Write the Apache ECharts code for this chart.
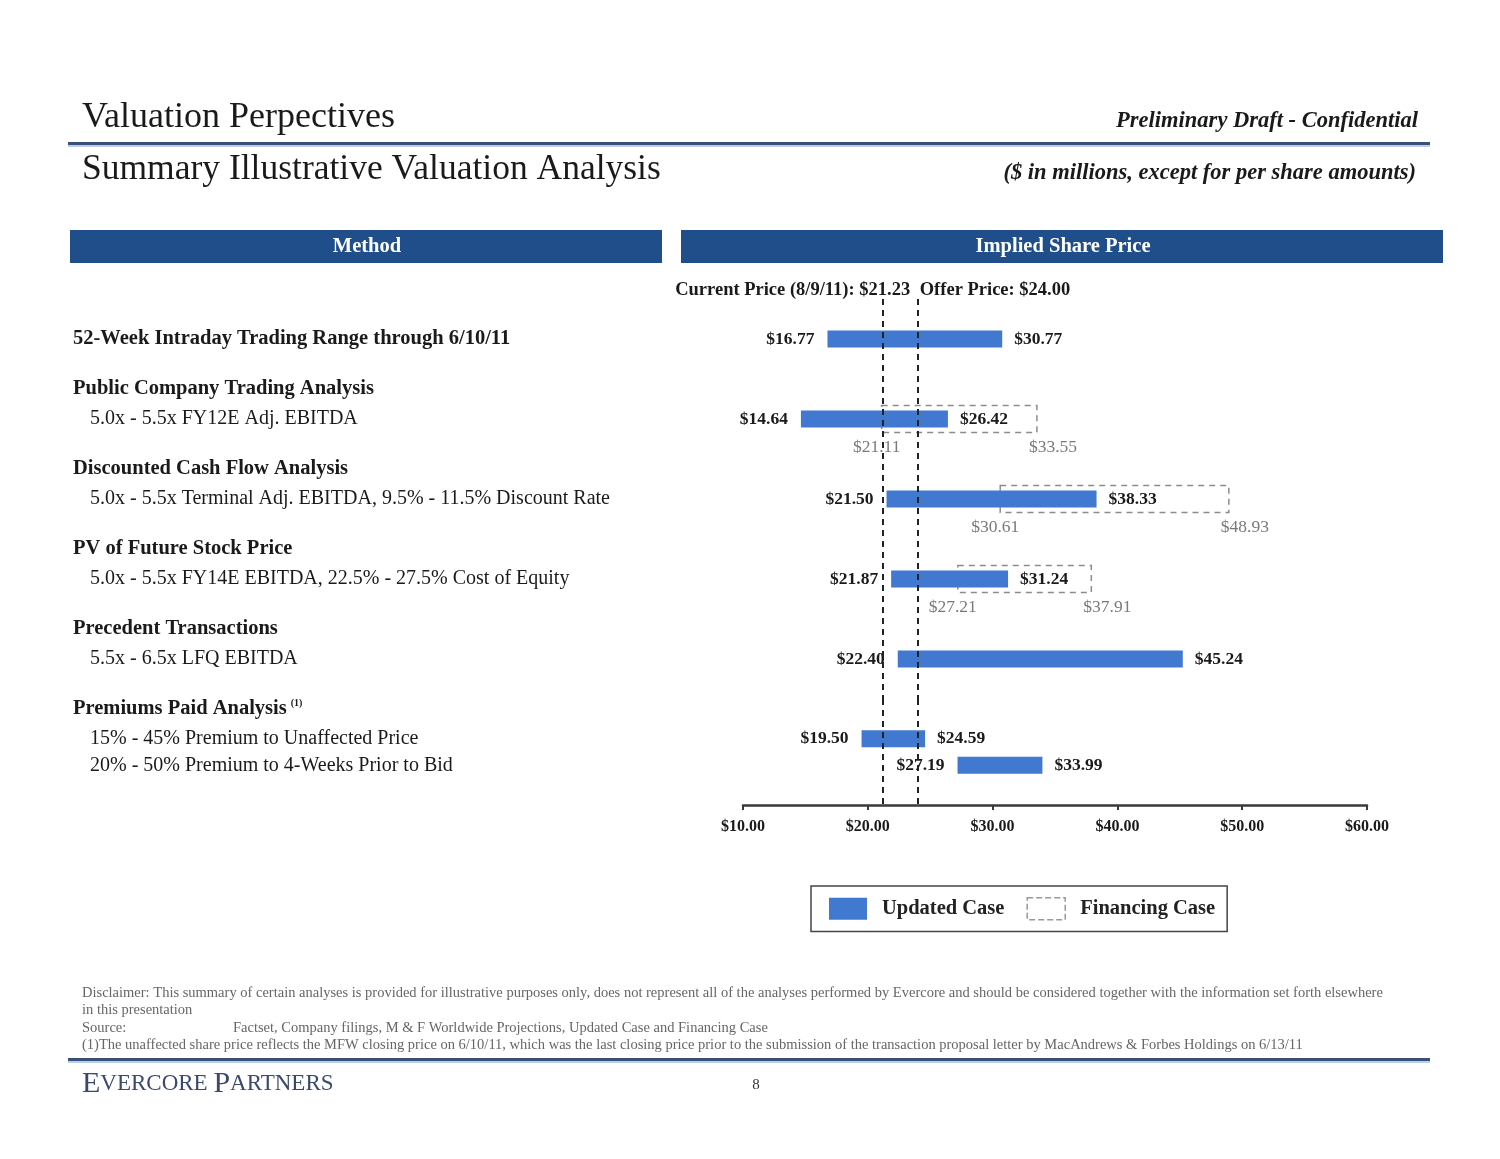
<!DOCTYPE html>
<html><head><meta charset="utf-8">
<script src="https://cdn.jsdelivr.net/npm/echarts@6/dist/echarts.min.js"></script>
<style>html,body{margin:0;padding:0;background:#fff}#c{width:1500px;height:1159px}</style>
</head><body><div id="c"></div>
<script>
// ---------------- DATA ----------------
const methods = [
  '52-Week Intraday Trading Range through 6/10/11',
  'Public Company Trading Analysis',
  'Discounted Cash Flow Analysis',
  'PV of Future Stock Price',
  'Precedent Transactions'
];
const methodDetails = [
  '',
  '5.0x - 5.5x FY12E Adj. EBITDA',
  '5.0x - 5.5x Terminal Adj. EBITDA, 9.5% - 11.5% Discount Rate',
  '5.0x - 5.5x FY14E EBITDA, 22.5% - 27.5% Cost of Equity',
  '5.5x - 6.5x LFQ EBITDA'
];
const updatedLow = [16.77, 14.64, 21.50, 21.87, 22.40];
const updatedHigh = [30.77, 26.42, 38.33, 31.24, 45.24];
const financingLow = [null, 21.11, 30.61, 27.21, null];
const financingHigh = [null, 33.55, 48.93, 37.91, null];

const premiumTitle = 'Premiums Paid Analysis';
const premiumCases = [
  '15% - 45% Premium to Unaffected Price',
  '20% - 50% Premium to 4-Weeks Prior to Bid'
];
const premiumLow = [19.50, 27.19];
const premiumHigh = [24.59, 33.99];

const currentPrice = 21.23;
const offerPrice = 24.00;
const axisMin = 10, axisMax = 60, axisStep = 10;

// ---------------- STYLE ----------------
const SERIF = '"Liberation Serif", "DejaVu Serif", serif';
const BLUE = '#4279D0';
const NAVY = '#1F4E8A';
const GL = 743, GW = 624;
const money = v => '$' + v.toFixed(2);

function barItem(params, api) {
  const cat = api.value(0), lo = api.value(1), hi = api.value(2);
  const a = api.coord([lo, cat]), b = api.coord([hi, cat]);
  const h = 17;
  return {type: 'group', children: [
    {type: 'rect', shape: {x: a[0], y: a[1] - h / 2, width: b[0] - a[0], height: h}, style: {fill: BLUE}},
    {type: 'text', x: a[0] - 13, y: a[1], style: {text: money(lo), align: 'right', verticalAlign: 'middle', font: 'bold 17.5px ' + SERIF, fill: '#1a1a1a'}},
    {type: 'text', x: b[0] + 12, y: a[1], style: {text: money(hi), align: 'left', verticalAlign: 'middle', font: 'bold 17.5px ' + SERIF, fill: '#1a1a1a'}}
  ]};
}
function boxItem(params, api) {
  const cat = api.value(0), lo = api.value(1), hi = api.value(2);
  const a = api.coord([lo, cat]), b = api.coord([hi, cat]);
  const h = 27;
  return {type: 'group', children: [
    {type: 'rect', shape: {x: a[0], y: a[1] - h / 2, width: b[0] - a[0], height: h}, style: {fill: 'none', stroke: '#8c8c8c', lineWidth: 1.5, lineDash: [6, 5]}},
    {type: 'text', x: a[0] - 5, y: a[1] + 28, style: {text: money(lo), align: 'center', verticalAlign: 'middle', font: '17.5px ' + SERIF, fill: '#7a7a7a'}},
    {type: 'text', x: b[0] - 8, y: a[1] + 28, style: {text: money(hi), align: 'left', verticalAlign: 'middle', font: '17.5px ' + SERIF, fill: '#7a7a7a'}}
  ]};
}

const refLines = {
  silent: true, symbol: 'none', animation: false,
  label: {show: false},
  lineStyle: {color: '#222', width: 2, type: [6, 5]},
  data: [{xAxis: currentPrice}, {xAxis: offerPrice}]
};

const rich = {
  t: {fontFamily: SERIF, fontSize: 20.5, fontWeight: 'bold', color: '#1a1a1a', lineHeight: 32},
  s: {fontFamily: SERIF, fontSize: 20, color: '#1a1a1a', lineHeight: 28, padding: [0, 0, 0, 17]},
  sup: {fontFamily: SERIF, fontSize: 10, fontWeight: 'bold', color: '#1a1a1a', padding: [0, 0, 10, 4]}
};

const chart = echarts.init(document.getElementById('c'), null, {renderer: 'canvas'});
chart.setOption({
  animation: false,
  backgroundColor: '#fff',
  grid: [
    {left: GL, width: GW, top: 299, height: 400},
    {left: GL, width: GW, top: 699, height: 106}
  ],
  xAxis: [
    {gridIndex: 0, type: 'value', min: axisMin, max: axisMax, interval: axisStep, show: false},
    {gridIndex: 1, type: 'value', min: axisMin, max: axisMax, interval: axisStep,
     axisLine: {show: true, lineStyle: {color: '#3a3a3a', width: 2.5}},
     axisTick: {show: true, length: 5, lineStyle: {color: '#3a3a3a', width: 2}},
     splitLine: {show: false},
     axisLabel: {margin: 14, formatter: v => money(v), fontFamily: SERIF, fontSize: 16, fontWeight: 'bold', color: '#1a1a1a'}}
  ],
  yAxis: [
    {gridIndex: 0, type: 'category', inverse: true, data: methods,
     axisLine: {show: false}, axisTick: {show: false}, splitLine: {show: false},
     axisLabel: {interval: 0, align: 'left', margin: GL - 73, rich,
       formatter: (v, i) => methodDetails[i] ? '{t|' + v + '}\n{s|' + methodDetails[i] + '}\n{t| }' : '{t|' + v + '}'}},
    {gridIndex: 1, type: 'category', inverse: true, data: premiumCases, min: -1, max: 2,
     axisLine: {show: false}, axisTick: {show: false}, splitLine: {show: false},
     axisLabel: {interval: 0, align: 'left', margin: GL - 73, rich,
       formatter: (v, i) => {
         if (!v) return '';
         if (v === premiumCases[0]) return '{t|' + premiumTitle + '}{sup|(1)}\n{s|' + v + '}\n{t| }';
         return '{s|' + v + '}';
       }}}
  ],
  legend: {
    left: 811, top: 886, orient: 'horizontal', selectedMode: false,
    padding: [11, 12, 11, 18], itemWidth: 38, itemHeight: 22, itemGap: 22,
    borderColor: '#444', borderWidth: 1.5,
    textStyle: {fontFamily: SERIF, fontSize: 20.5, fontWeight: 'bold', color: '#222', padding: [0, 0, 0, 10]},
    data: [
      {name: 'Updated Case', icon: 'rect', itemStyle: {color: BLUE}},
      {name: 'Financing Case', icon: 'rect', itemStyle: {color: '#fff', borderColor: '#999', borderWidth: 1.5, borderType: 'dashed'}}
    ]
  },
  series: [
    {name: 'Financing Case', type: 'custom', xAxisIndex: 0, yAxisIndex: 0, z: 2,
     itemStyle: {color: '#fff'},
     encode: {x: [1, 2], y: 0},
     renderItem: boxItem,
     data: financingLow.map((lo, i) => lo == null ? null : [i, lo, financingHigh[i]]).filter(d => d)},
    {name: 'Updated Case', type: 'custom', xAxisIndex: 0, yAxisIndex: 0, z: 3,
     itemStyle: {color: BLUE},
     encode: {x: [1, 2], y: 0},
     renderItem: barItem,
     data: updatedLow.map((lo, i) => [i, lo, updatedHigh[i]]),
     markLine: refLines},
    {name: 'Updated Case', type: 'custom', xAxisIndex: 1, yAxisIndex: 1, z: 3,
     itemStyle: {color: BLUE},
     encode: {x: [1, 2], y: 0},
     renderItem: barItem,
     data: premiumLow.map((lo, i) => [i, lo, premiumHigh[i]]),
     markLine: refLines}
  ]
});

const xCur = chart.convertToPixel({xAxisIndex: 0}, currentPrice);
const xOff = chart.convertToPixel({xAxisIndex: 0}, offerPrice);

const smallFont = '14.5px ' + SERIF;
chart.setOption({
  graphic: [
    // titles
    {type: 'text', x: 82, y: 118, style: {text: 'Valuation Perpectives', verticalAlign: 'middle', font: '36px ' + SERIF, fill: '#1a1a1a'}},
    {type: 'rect', shape: {x: 68, y: 142, width: 1362, height: 3}, style: {fill: '#3b5078'}},
    {type: 'rect', shape: {x: 68, y: 145, width: 1362, height: 2}, style: {fill: '#b9cfe9'}},
    {type: 'text', x: 82, y: 170, style: {text: 'Summary Illustrative Valuation Analysis', verticalAlign: 'middle', font: '35.5px ' + SERIF, fill: '#1a1a1a'}},
    {type: 'text', x: 1418, y: 121, style: {text: 'Preliminary Draft - Confidential', align: 'right', verticalAlign: 'middle', font: 'italic bold 22.5px ' + SERIF, fill: '#1a1a1a'}},
    {type: 'text', x: 1416, y: 173, style: {text: '($ in millions, except for per share amounts)', align: 'right', verticalAlign: 'middle', font: 'italic bold 22.5px ' + SERIF, fill: '#1a1a1a'}},
    // header bars
    {type: 'rect', shape: {x: 70, y: 230, width: 592, height: 33}, style: {fill: NAVY}},
    {type: 'text', x: 367, y: 246.5, style: {text: 'Method', align: 'center', verticalAlign: 'middle', font: 'bold 20.5px ' + SERIF, fill: '#fff'}},
    {type: 'rect', shape: {x: 681, y: 230, width: 762, height: 33}, style: {fill: NAVY}},
    {type: 'text', x: 1063, y: 246.5, style: {text: 'Implied Share Price', align: 'center', verticalAlign: 'middle', font: 'bold 20.5px ' + SERIF, fill: '#fff'}},
    // reference line labels
    {type: 'text', x: xCur + 27, y: 290, style: {text: 'Current Price (8/9/11): ' + money(currentPrice), align: 'right', verticalAlign: 'middle', font: 'bold 18.5px ' + SERIF, fill: '#1a1a1a'}},
    {type: 'text', x: xOff + 2, y: 290, style: {text: 'Offer Price: ' + money(offerPrice), align: 'left', verticalAlign: 'middle', font: 'bold 18.5px ' + SERIF, fill: '#1a1a1a'}},
    // footer
    {type: 'text', x: 82, y: 993, style: {text: 'Disclaimer: This summary of certain analyses is provided for illustrative purposes only, does not represent all of the analyses performed by Evercore and should be considered together with the information set forth elsewhere', verticalAlign: 'middle', font: smallFont, fill: '#666'}},
    {type: 'text', x: 82, y: 1010, style: {text: 'in this presentation', verticalAlign: 'middle', font: smallFont, fill: '#666'}},
    {type: 'text', x: 82, y: 1028, style: {text: 'Source:', verticalAlign: 'middle', font: smallFont, fill: '#666'}},
    {type: 'text', x: 233, y: 1028, style: {text: 'Factset, Company filings, M & F Worldwide Projections, Updated Case and Financing Case', verticalAlign: 'middle', font: smallFont, fill: '#666'}},
    {type: 'text', x: 82, y: 1045, style: {text: '(1)The unaffected share price reflects the MFW closing price on 6/10/11, which was the last closing price prior to the submission of the transaction proposal letter by MacAndrews & Forbes Holdings on 6/13/11', verticalAlign: 'middle', font: smallFont, fill: '#666'}},
    {type: 'rect', shape: {x: 68, y: 1058, width: 1362, height: 3}, style: {fill: '#3b5078'}},
    {type: 'rect', shape: {x: 68, y: 1061, width: 1362, height: 2}, style: {fill: '#b9cfe9'}},
    {type: 'text', x: 82, y: 1084, style: {rich: {a: {fontFamily: SERIF, fontSize: 30, fill: '#3b4a6b'}, b: {fontFamily: SERIF, fontSize: 23, fill: '#3b4a6b'}}, text: '{a|E}{b|VERCORE }{a|P}{b|ARTNERS}', verticalAlign: 'middle'}},
    {type: 'text', x: 756, y: 1085, style: {text: '8', align: 'center', verticalAlign: 'middle', font: '15px ' + SERIF, fill: '#333'}}
  ]
});
</script>
</body></html>
